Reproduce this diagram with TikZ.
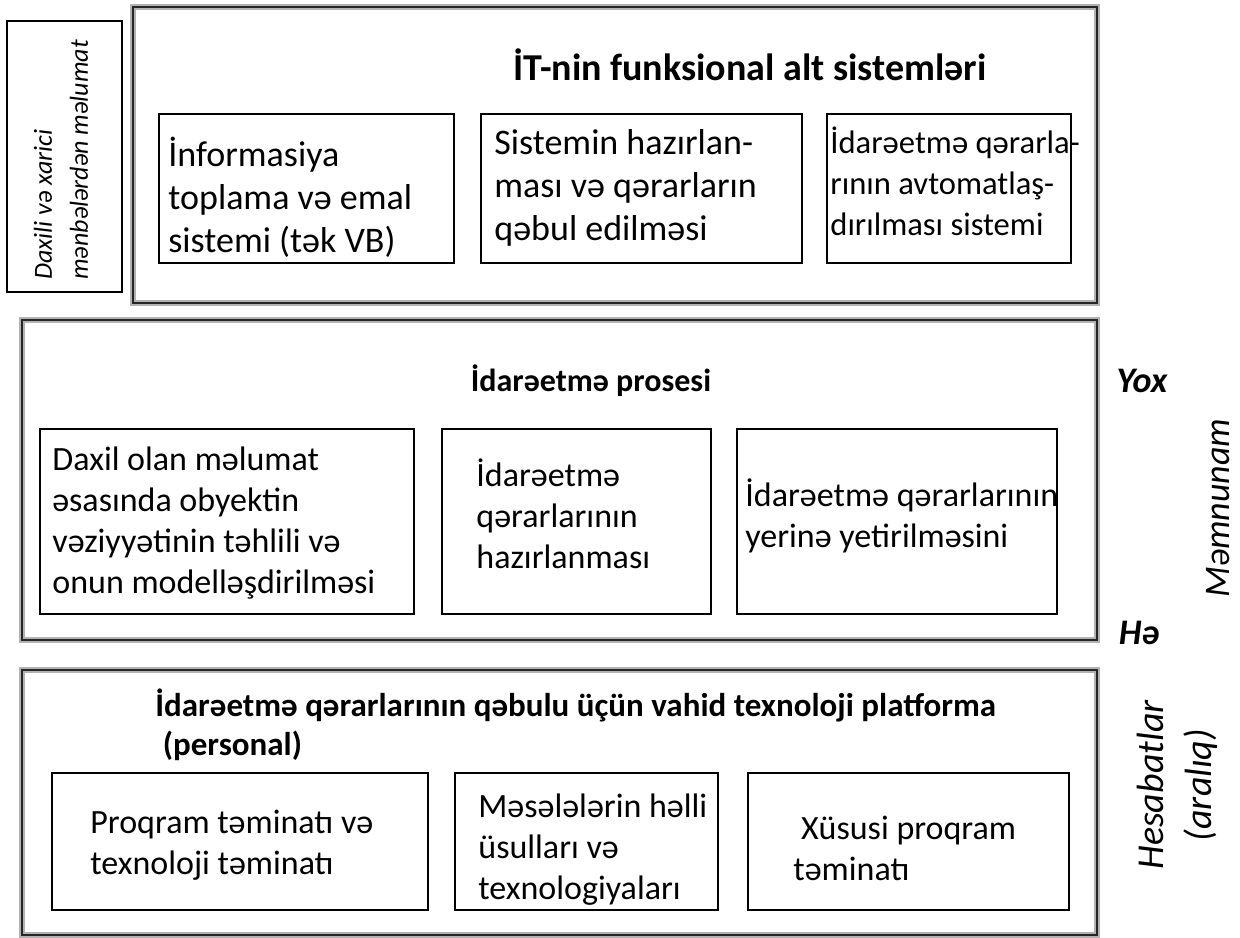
\documentclass[tikz,border=0pt]{standalone}
\usepackage{fontspec}
\setmainfont{Carlito}
\usetikzlibrary{fit,positioning}
\tikzset{%
  panel/.style={draw=black!85, line width=0.8pt, inner sep=0pt,
    preaction={draw=black!30, line width=2.6pt}},% outer frame
  box/.style={draw, line width=0.8pt, inner sep=0pt},% inner frame
  boxtext/.style={align=left, inner sep=0pt, anchor=west},% text in a frame
  title/.style={inner sep=0pt, font=\bfseries},% frame heading
  side/.style={inner sep=0pt, font=\itshape}% labels at the side
}
\newcommand*{\sizeA}{\fontsize{18}{21.5}\selectfont}
\newcommand*{\sizeB}{\fontsize{17}{20.5}\selectfont}

\begin{document}
\begin{tikzpicture}[x=0.5pt, y=-0.5pt]
\useasboundingbox (0,0) rectangle (1240,937);

% left source box
\node[box, fit={(7,21) (122,292)}] (src) {};
\node[side, rotate=90, align=left, font=\fontsize{13}{18}\selectfont\itshape] (srct) at (61,160)
  {Daxili və xarici\\mənbələrdən məlumat};

% top panel
\node[panel, fit={(133,7) (1097,303)}] (top) {};
\node[title, font=\fontsize{19}{22}\selectfont\bfseries] (toph) at (750,65) {İT-nin funksional alt sistemləri};
\node[box, fit={(159,114) (454,263)}] (f1) {};
\node[box, fit={(481,114) (802,263)}] (f2) {};
\node[box, fit={(827,114) (1071,263)}] (f3) {};
\node[boxtext, font=\sizeA] (f1t) at (168,197) {İnformasiya\\toplama və emal\\sistemi (tək VB)};
\node[boxtext, font=\sizeA] (f2t) at (494,188) {Sistemin hazırlan-\\ması və qərarların\\qəbul edilməsi};
\node[boxtext, font=\fontsize{16.3}{20.5}\selectfont] (f3t) at (830,181) {İdarəetmə qərarla-\\rının avtomatlaş-\\dırılması sistemi};

% middle panel
\node[panel, fit={(22,320) (1097,640)}] (mid) {};
\node[title, font=\fontsize{16}{19}\selectfont\bfseries] (midh) at (591,381) {İdarəetmə prosesi};
\node[box, fit={(40,429) (414,614)}] (m1) {};
\node[box, fit={(442,429) (711,614)}] (m2) {};
\node[box, fit={(737,429) (1057,614)}] (m3) {};
\node[boxtext, font=\sizeB] (m1t) at (52,523) {Daxil olan məlumat\\əsasında obyektin\\vəziyyətinin təhlili və\\onun modelləşdirilməsi};
\node[boxtext, font=\sizeB] (m2t) at (476,514) {İdarəetmə\\qərarlarının\\hazırlanması};
\node[boxtext, font=\sizeB] (m3t) at (745,516) {İdarəetmə qərarlarının\\yerinə yetirilməsini};

% bottom panel
\node[panel, fit={(22,670) (1097,935)}] (bot) {};
\node[title, align=left, anchor=west, font=\fontsize{16.5}{19.5}\selectfont\bfseries] (both) at (155,725)
  {İdarəetmə qərarlarının qəbulu üçün vahid texnoloji platforma\\\ (personal)};
\node[box, fit={(52,773) (428,910)}] (b1) {};
\node[box, fit={(455,773) (718,910)}] (b2) {};
\node[box, fit={(748,773) (1069,910)}] (b3) {};
\node[boxtext, font=\sizeB] (b1t) at (90,845) {Proqram təminatı və\\texnoloji təminatı};
\node[boxtext, font=\sizeB] (b2t) at (478,850) {Məsələlərin həlli\\üsulları və\\texnologiyaları};
\node[boxtext, font=\sizeB] (b3t) at (793,848) {\ Xüsusi proqram\\təminatı};

% labels on the right
\node[side, font=\fontsize{18}{21}\selectfont\bfseries\itshape] (yes0) at (1142,381) {Yox};
\node[side, font=\fontsize{18}{21}\selectfont\bfseries\itshape] (yes1) at (1139,633) {Hə};
\node[side, rotate=90, font=\fontsize{18}{21}\selectfont\itshape] (glad) at (1218,508) {Məmnunam};
\node[side, rotate=90, align=center, font=\fontsize{19}{24}\selectfont\itshape] (rep) at (1177,785) {Hesabatlar\\(aralıq)};
\end{tikzpicture}
\end{document}
